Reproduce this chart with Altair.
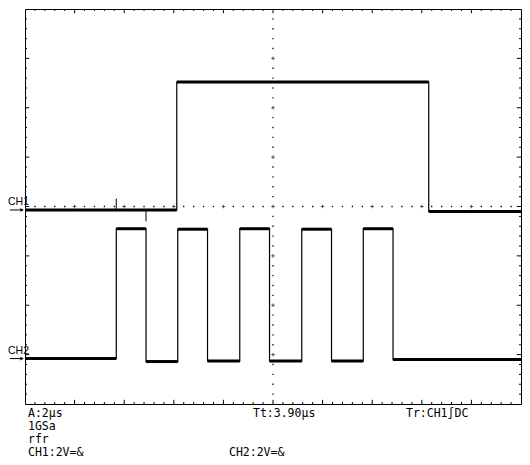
import altair as alt
import pandas as pd

# Screen grid: 10 horizontal divisions (2 µs/div), 8 vertical divisions (2 V/div)
X_DIVS = 10
Y_DIVS = 8

# CH1 trace (in divisions): edge times and levels between edges
ch1_edges = [3.06, 8.14]
ch1_levels = [3.93, 6.52, 3.90]
# crosstalk glitches on CH1 at CH2 edges
ch1_glitch_x = [1.84, 2.44]
ch1_glitch_y = [4.16, 3.70]

# CH2 trace (in divisions)
ch2_edges = [1.84, 2.44, 3.08, 3.68, 4.33, 4.93, 5.58, 6.18, 6.82, 7.42]
ch2_levels = [0.92, 3.55, 0.86, 3.54, 0.87, 3.55, 0.87, 3.54, 0.87, 3.55, 0.90]

# channel marker labels
marker_names = ["CH1", "CH2"]
marker_levels = [3.93, 0.92]

# status text lines
footer_text = ["A:2µs", "Tt:3.90µs", "Tr:CH1∫DC", "1GSa", "rfr", "CH1:2V=&", "CH2:2V=&"]
footer_px = [3, 228, 381, 3, 3, 3, 204]
footer_py = [408, 408, 408, 421, 434, 446.5, 446.5]

W, H = 496, 395


def step_df(edges, levels, name):
    xs, ys = [0.0], [levels[0]]
    for e, a, b in zip(edges, levels[:-1], levels[1:]):
        xs += [e, e]
        ys += [a, b]
    xs.append(float(X_DIVS))
    ys.append(levels[-1])
    return pd.DataFrame({"t": xs, "v": ys, "i": range(len(xs)), "ch": name})


def flat_df(edges, levels, name):
    starts = [0.0] + edges
    ends = edges + [float(X_DIVS)]
    return pd.DataFrame({"t": starts, "t2": ends, "v": levels, "ch": name})


xs = alt.Scale(domain=[0, X_DIVS], nice=False, zero=False)
ys = alt.Scale(domain=[0, Y_DIVS], nice=False, zero=False)

# ---- frame ticks (inward), every 1/5 division, longer at whole divisions
tick_rows = []
for i in range(1, X_DIVS * 5):
    p = i / 5
    L = 0.085 if i % 5 == 0 else 0.04
    tick_rows.append({"x": p, "x2": p, "y": Y_DIVS, "y2": Y_DIVS - L})
    tick_rows.append({"x": p, "x2": p, "y": 0, "y2": L})
for i in range(1, Y_DIVS * 5):
    p = i / 5
    L = 0.085 if i % 5 == 0 else 0.04
    tick_rows.append({"x": 0, "x2": L, "y": p, "y2": p})
    tick_rows.append({"x": X_DIVS, "x2": X_DIVS - L, "y": p, "y2": p})
ticks = alt.Chart(pd.DataFrame(tick_rows)).mark_rule(color="black", strokeWidth=1).encode(
    x=alt.X("x:Q", scale=xs, axis=None),
    x2="x2:Q",
    y=alt.Y("y:Q", scale=ys, axis=None),
    y2="y2:Q",
)

# ---- centre crosshair (dots every 1/5 division, + at whole divisions)
dot_rows, cross_rows = [], []
for i in range(1, X_DIVS * 5):
    p = i / 5
    (cross_rows if i % 5 == 0 else dot_rows).append({"x": p, "y": Y_DIVS / 2})
for i in range(1, Y_DIVS * 5):
    p = i / 5
    if abs(p - Y_DIVS / 2) < 1e-9:
        continue
    (cross_rows if i % 5 == 0 else dot_rows).append({"x": X_DIVS / 2, "y": p})
dots = alt.Chart(pd.DataFrame(dot_rows)).mark_square(size=1.6, color="black", opacity=1).encode(
    x=alt.X("x:Q", scale=xs, axis=None), y=alt.Y("y:Q", scale=ys, axis=None)
)
crosses = alt.Chart(pd.DataFrame(cross_rows)).mark_point(
    shape="M-1,0H1M0,-1V1", size=12, color="black", strokeWidth=1, filled=False
).encode(x=alt.X("x:Q", scale=xs, axis=None), y=alt.Y("y:Q", scale=ys, axis=None))

# ---- traces
steps = pd.concat([step_df(ch1_edges, ch1_levels, "CH1"), step_df(ch2_edges, ch2_levels, "CH2")])
flats = pd.concat([flat_df(ch1_edges, ch1_levels, "CH1"), flat_df(ch2_edges, ch2_levels, "CH2")])

trace_lines = alt.Chart(steps).mark_line(color="black", strokeWidth=1.2, interpolate="linear").encode(
    x=alt.X("t:Q", scale=xs, axis=None),
    y=alt.Y("v:Q", scale=ys, axis=None),
    detail="ch:N",
    order="i:Q",
)
trace_flats = alt.Chart(flats).mark_rule(color="black", strokeWidth=3).encode(
    x=alt.X("t:Q", scale=xs, axis=None),
    x2="t2:Q",
    y=alt.Y("v:Q", scale=ys, axis=None),
)
glitches = alt.Chart(
    pd.DataFrame({"t": ch1_glitch_x, "v": [ch1_levels[0]] * 2, "v2": ch1_glitch_y})
).mark_rule(color="black", strokeWidth=1).encode(
    x=alt.X("t:Q", scale=xs, axis=None),
    y=alt.Y("v:Q", scale=ys, axis=None),
    y2="v2:Q",
)

# ---- channel markers at left edge
mk = pd.DataFrame({"name": marker_names, "lvl": marker_levels})
mk_text = alt.Chart(mk).mark_text(
    align="left", baseline="alphabetic", font="Liberation Sans", fontSize=10.5, dy=-5, color="black"
).encode(x=alt.value(-17), y=alt.Y("lvl:Q", scale=ys, axis=None), text="name:N")
mk_arrow = alt.Chart(mk).mark_rule(color="black", strokeWidth=1).encode(
    x=alt.value(-15), x2=alt.value(-2), y=alt.Y("lvl:Q", scale=ys, axis=None)
)
mk_head = alt.Chart(mk).mark_point(
    shape="triangle-right", size=14, filled=True, color="black", opacity=1, xOffset=-3
).encode(x=alt.value(0), y=alt.Y("lvl:Q", scale=ys, axis=None))

# ---- status text
footer_layers = []
for txt, px, py in zip(footer_text, footer_px, footer_py):
    footer_layers.append(
        alt.Chart(pd.DataFrame({"s": [txt]})).mark_text(
            align="left", baseline="alphabetic", font="DejaVu Sans Mono", fontSize=11.5, color="black"
        ).encode(x=alt.value(px), y=alt.value(py), text="s:N")
    )

chart = alt.layer(
    ticks, dots, crosses, trace_flats, trace_lines, glitches, mk_arrow, mk_head, mk_text, *footer_layers
).properties(
    width=W,
    height=H,
    padding={"left": 17, "top": 1, "right": 1, "bottom": 53},
    autosize=alt.AutoSizeParams(type="none"),
    background="white",
).configure_view(stroke="black", strokeWidth=1)

chart.save("out.html", embed_options={"renderer": "svg", "actions": False})
